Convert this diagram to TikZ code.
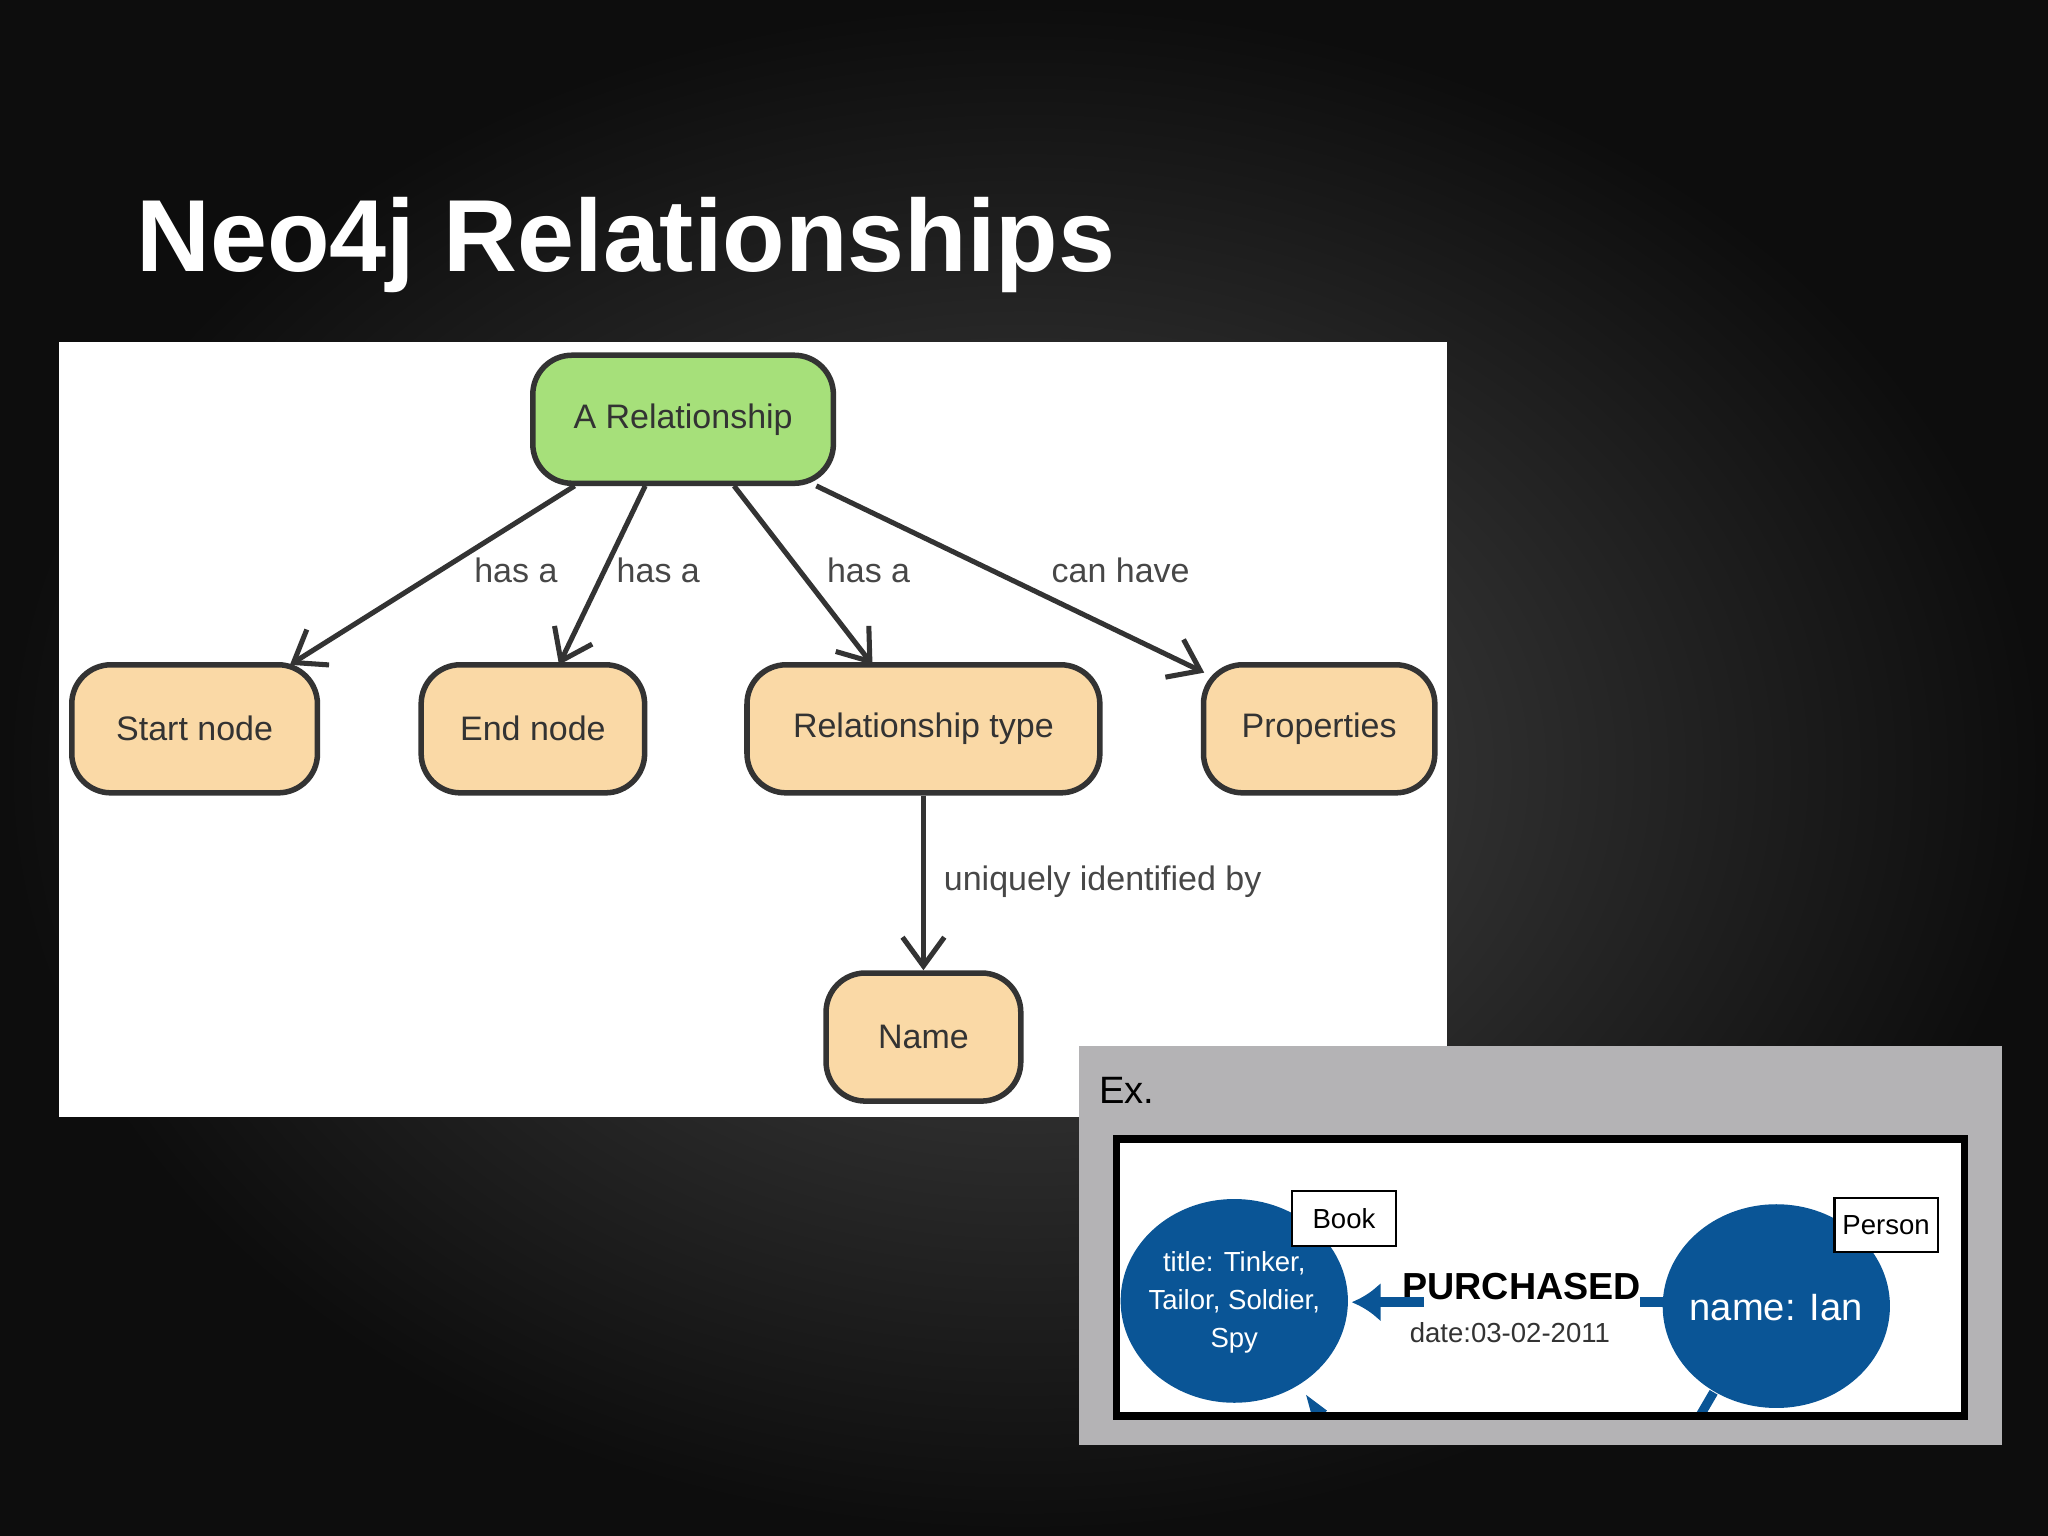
\documentclass[tikz,border=0pt]{standalone}
\usepackage{fontspec}
\setmainfont{Liberation Sans}
\usetikzlibrary{positioning,arrows.meta}
\definecolor{boxgreen}{HTML}{A6E07A}
\definecolor{boxtan}{HTML}{FAD9A6}
\definecolor{neoblue}{HTML}{0A5596}
\definecolor{exgrey}{HTML}{B4B3B5}
\definecolor{edgegrey}{HTML}{333333}
\begin{document}
\begin{tikzpicture}[x=0.01cm,y=-0.01cm,
  concept/.style={draw=edgegrey,line width=1.2pt,rounded corners=0.3cm,fill=boxtan,
    minimum height=0.98cm,font=\fontsize{7.4}{9}\selectfont,text=edgegrey},
  rel/.style={draw=edgegrey,line width=1.1pt,-{Straight Barb[length=2.2mm,width=3.2mm]}},
  lbl/.style={font=\fontsize{7.4}{9}\selectfont,text=edgegrey!90},
  tag/.style={draw,fill=white,line width=0.5pt,inner sep=0pt,font=\fontsize{6}{7}\selectfont}]

% background
\useasboundingbox (0,0) rectangle (1568,1176);
\shade[inner color=black!72,outer color=black!95] (0,0) rectangle (1568,1176);

% title
\node[anchor=base west,text=white,font=\fontsize{22.3}{26}\bfseries\selectfont] (title) at (92,208) {Neo4j Relationships};

% white panel
\fill[white] (45,262) rectangle (1108,855);

% concept boxes
\node[concept,fill=boxgreen,minimum width=2.3cm] (rel) at (523,321) {A Relationship};
\node[concept,minimum width=1.88cm] (start) at (149,558) {Start node};
\node[concept,minimum width=1.71cm] (end) at (408,558) {End node};
\node[concept,minimum width=2.7cm] (type) at (707,558) {Relationship type};
\node[concept,minimum width=1.77cm] (props) at (1010,558) {Properties};
\node[concept,minimum width=1.49cm] (name) at (707,794) {Name};

% connectors
\coordinate (r1) at (440,372);
\coordinate (r2) at (494,372);
\coordinate (r3) at (562,372);
\coordinate (r4) at (625,372);
\coordinate (startin) at (222,509);
\coordinate (endin) at (428,509);
\coordinate (typein) at (668,509);
\coordinate (propsin) at (922,515);
\draw[rel] (r1) -- (startin);
\draw[rel] (r2) -- (endin);
\draw[rel] (r3) -- (typein);
\draw[rel] (r4) -- (propsin);
\draw[rel] (type) -- (name);

% edge labels
\node[lbl] (l1) at (395,437) {has a};
\node[lbl] (l2) at (504,437) {has a};
\node[lbl] (l3) at (665,437) {has a};
\node[lbl] (l4) at (858,437) {can have};
\node[lbl,anchor=west,inner sep=0pt] (l5) at (722,675) {uniquely identified by};

% example panel
\fill[exgrey] (826,801) rectangle (1533,1106);
\node[anchor=west,inner sep=0pt,font=\fontsize{8.3}{10}\selectfont] (ex) at (841,835) {Ex.};
\fill[white] (855,872) rectangle (1504,1084);
\begin{scope}
  \clip (855,872) rectangle (1504,1084);
  \fill[neoblue] (945,996) ellipse (87 and 78);
  \fill[neoblue] (1360,1000) ellipse (87 and 78);
  \draw[neoblue,line width=2pt] (1312,1066) -- (1298,1090);
  \fill[neoblue] (1000,1068) -- (1016,1080) -- (1006,1090) -- cycle;
\end{scope}
\draw[line width=1.6pt] (855,872) rectangle (1504,1084);

\node[align=center,text=white,font=\fontsize{6}{8.3}\selectfont] (book) at (945,997) {title: Tinker,\\Tailor, Soldier,\\Spy};
\node[text=white,font=\fontsize{8.3}{10}\selectfont] (ian) at (1360,1001) {name: Ian};
\node[tag,minimum width=0.8cm,minimum height=0.42cm] (booktag) at (1029,933) {Book};
\node[tag,minimum width=0.79cm,minimum height=0.41cm] (persontag) at (1444,938) {Person};

\node[font=\fontsize{8.2}{10}\bfseries\selectfont] (buy) at (1165,985) {PURCHASED};
\node[font=\fontsize{6}{7}\selectfont,text=black!80] (date) at (1156,1020) {date:03-02-2011};
\coordinate (buyend) at (1090,997);
\coordinate (buytip) at (1035,997);
\coordinate (stubl) at (1256,997);
\coordinate (stubr) at (1273,997);
\draw[neoblue,line width=2.2pt,-{Latex[length=2.2mm,width=3mm]}] (buyend) -- (buytip);
\draw[neoblue,line width=2.2pt] (stubl) -- (stubr);
\end{tikzpicture}
\end{document}
